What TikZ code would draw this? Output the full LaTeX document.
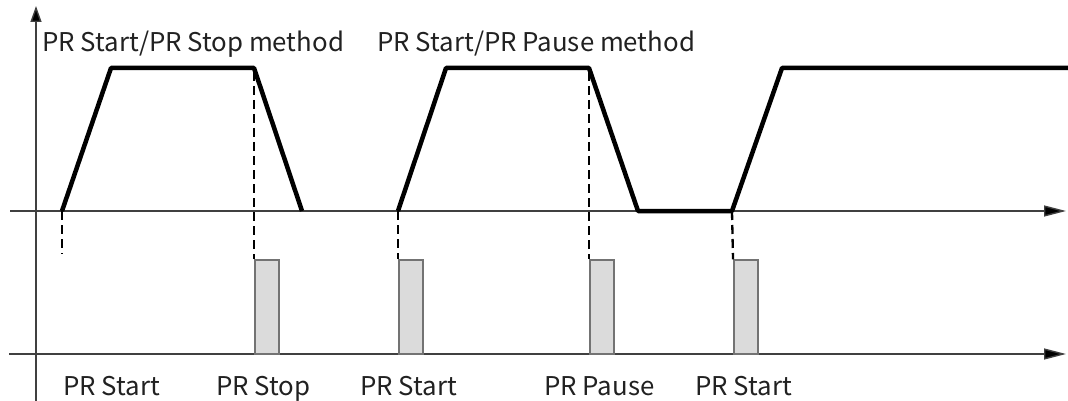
\documentclass[tikz,border=0pt]{standalone}
\usepackage{fontspec}
\newfontfamily\lab{Noto Sans CJK SC}
\usetikzlibrary{arrows.meta}
\begin{document}
\begin{tikzpicture}[x=1pt,y=-1pt,
  axisline/.style={line width=1.4pt, draw=black!75},
  haxis/.style={axisline, -{Triangle[length=22pt,width=11pt,fill=black]}},
  vaxis/.style={axisline, -{Triangle[length=16pt,width=11pt,fill=black]}},
  profile/.style={line width=4.5pt, line join=round, draw=black},
  dashline/.style={line width=2.3pt, draw=black, dash pattern=on 9pt off 5pt},
  pulse/.style={draw=black!55, fill=black!14, line width=1.6pt, minimum width=24pt,
    minimum height=94pt, inner sep=0pt, anchor=south west},
  lbl/.style={font=\lab\fontsize{25.8}{30}\selectfont, text=black!87, inner sep=0pt, anchor=base west}]
\useasboundingbox (0,0) rectangle (1068,401);
\fill[white] (0,0) rectangle (1068,401);

% axes
\coordinate (vb) at (36,401);
\coordinate (vt) at (36,6);
\draw[vaxis] (vb) -- (vt);
\coordinate (ua) at (10,211);
\coordinate (ub) at (1066,211);
\draw[haxis] (ua) -- (ub);
\coordinate (la) at (9,354);
\coordinate (lb) at (1066,354);
\draw[haxis] (la) -- (lb);

% speed profile points
\coordinate (s1) at (62,211);
\coordinate (t1) at (111,68);
\coordinate (p1) at (254,68);
\coordinate (e1) at (302,211);
\coordinate (s2) at (398,211);
\coordinate (t2) at (446,68);
\coordinate (p2) at (589,68);
\coordinate (e2) at (638,211);
\coordinate (s3) at (732,211);
\coordinate (t3) at (782,68);
\coordinate (r3) at (1070,68);

% pulses
\node[pulse] (b1) at (254,355) {};
\node[pulse] (b2) at (398,355) {};
\node[pulse] (b3) at (589,355) {};
\node[pulse] (b4) at (733,355) {};

% dashed guides
\coordinate (d0) at (62,254);
\draw[dashline] (s1) -- (d0);
\draw[dashline] ([yshift=-4pt]p1) -- (b1.north west);
\draw[dashline] (s2) -- (b2.north west);
\draw[dashline] ([yshift=-4pt]p2) -- (b3.north west);
\draw[dashline] (s3) -- (b4.north west);

% profiles
\draw[profile] (s1) -- (t1) -- (p1) -- (e1);
\draw[profile] (s2) -- (t2) -- (p2) -- (e2) -- (s3) -- (t3) -- (r3);

% labels
\node[lbl] (m1) at (42,52) {PR Start/PR Stop method};
\node[lbl] (m2) at (377,52) {PR Start/PR Pause method};
\node[lbl] (l1) at (63,395) {PR Start};
\node[lbl] (l2) at (216,395) {PR Stop};
\node[lbl] (l3) at (360,395) {PR Start};
\node[lbl] (l4) at (544,395) {PR Pause};
\node[lbl] (l5) at (695,395) {PR Start};
\end{tikzpicture}
\end{document}
